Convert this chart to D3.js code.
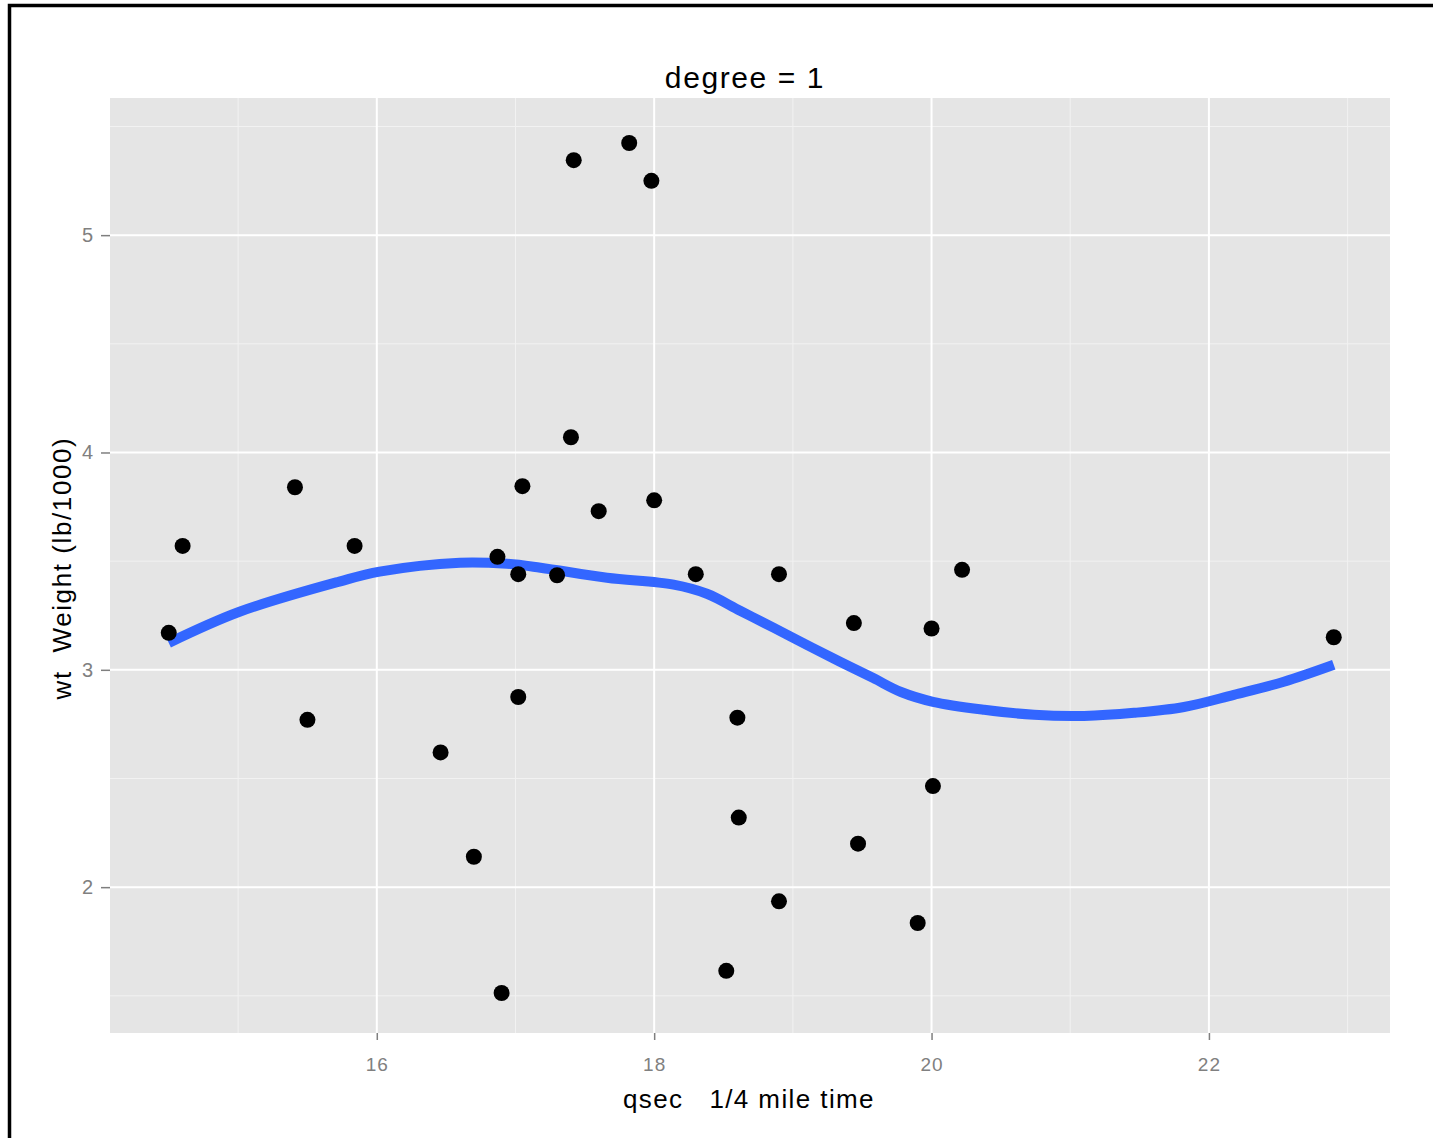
<!DOCTYPE html>
<html>
<head>
<meta charset="utf-8">
<script src="https://cdn.jsdelivr.net/npm/d3@7"></script>
<style>
  html, body { margin: 0; padding: 0; background: #fff; }
  svg { display: block; font-family: "Liberation Sans", Arial, sans-serif; }
</style>
</head>
<body>
<svg id="chart" width="1433" height="1138"></svg>
<script>
// mtcars: quarter-mile time (qsec) and weight (wt, 1000 lb)
const qsec = [16.46, 17.02, 18.61, 19.44, 17.02, 20.22, 15.84, 20.00, 22.90, 18.30,
              18.90, 17.40, 17.60, 18.00, 17.98, 17.82, 17.42, 19.47, 18.52, 19.90,
              20.01, 16.87, 17.30, 15.41, 17.05, 18.90, 16.70, 16.90, 14.50, 15.50,
              14.60, 18.60];
const wt = [2.620, 2.875, 2.320, 3.215, 3.440, 3.460, 3.570, 3.190, 3.150, 3.440,
            3.440, 4.070, 3.730, 3.780, 5.250, 5.424, 5.345, 2.200, 1.615, 1.835,
            2.465, 3.520, 3.435, 3.840, 3.845, 1.935, 2.140, 1.513, 3.170, 2.770,
            3.570, 2.780];

// loess smooth (degree = 1), sampled along qsec
const smoothX = [14.50, 15.01, 15.73, 16.02, 16.60, 16.94, 17.18, 17.66, 18.14, 18.38,
                 18.62, 18.86, 19.10, 19.34, 19.58, 19.78, 20.01, 20.38, 20.74, 21.10,
                 21.46, 21.82, 22.18, 22.54, 22.90];
const smoothY = [3.124, 3.267, 3.406, 3.452, 3.493, 3.488, 3.470, 3.424, 3.392, 3.350,
                 3.272, 3.194, 3.115, 3.037, 2.962, 2.898, 2.853, 2.816, 2.793, 2.788,
                 2.802, 2.829, 2.885, 2.945, 3.023];

const xTicks = [16, 18, 20, 22];
const xMinor = [15, 17, 19, 21, 23];
const yTicks = [2, 3, 4, 5];
const yMinor = [1.5, 2.5, 3.5, 4.5, 5.5];

const title = "degree = 1";
const xTitle = "qsec   1/4 mile time";
const yTitle = "wt  Weight (lb/1000)";

const svg = d3.select("#chart");

// outer frame
svg.append("path")
  .attr("d", "M9.5,1138 L9.5,5.5 L1433,5.5")
  .attr("fill", "none").attr("stroke", "#000").attr("stroke-width", 3.5);

const panel = { left: 110, top: 98, right: 1390, bottom: 1033 };

const xExt = d3.extent(qsec), yExt = d3.extent(wt);
const xPad = (xExt[1] - xExt[0]) * 0.05, yPad = (yExt[1] - yExt[0]) * 0.05;

const x = d3.scaleLinear()
  .domain([xExt[0] - xPad, xExt[1] + xPad])
  .range([panel.left + 0.5, panel.right + 2]);
const y = d3.scaleLinear()
  .domain([yExt[0] - yPad, yExt[1] + yPad])
  .range([panel.bottom + 2.5, panel.top + 2.5]);

// panel background
svg.append("rect")
  .attr("x", panel.left).attr("y", panel.top)
  .attr("width", panel.right - panel.left).attr("height", panel.bottom - panel.top)
  .attr("fill", "#E5E5E5");

const grid = svg.append("g");
// minor grid
grid.selectAll(".xm").data(xMinor.filter(v => x(v) <= panel.right)).enter().append("line")
  .attr("x1", d => x(d)).attr("x2", d => x(d))
  .attr("y1", panel.top).attr("y2", panel.bottom)
  .attr("stroke", "#F2F2F2").attr("stroke-width", 1);
grid.selectAll(".ym").data(yMinor.filter(v => y(v) >= panel.top)).enter().append("line")
  .attr("y1", d => y(d)).attr("y2", d => y(d))
  .attr("x1", panel.left).attr("x2", panel.right)
  .attr("stroke", "#F2F2F2").attr("stroke-width", 1);
// major grid
grid.selectAll(".xg").data(xTicks).enter().append("line")
  .attr("x1", d => x(d)).attr("x2", d => x(d))
  .attr("y1", panel.top).attr("y2", panel.bottom)
  .attr("stroke", "#FFFFFF").attr("stroke-width", 2);
grid.selectAll(".yg").data(yTicks).enter().append("line")
  .attr("y1", d => y(d)).attr("y2", d => y(d))
  .attr("x1", panel.left).attr("x2", panel.right)
  .attr("stroke", "#FFFFFF").attr("stroke-width", 2);

// axes
const xAxis = d3.axisBottom(x).tickValues(xTicks).tickFormat(d3.format("d"))
  .tickSize(7).tickPadding(18).tickSizeOuter(0);
const gx = svg.append("g").attr("transform", `translate(0,${panel.bottom})`).call(xAxis);
gx.select(".domain").remove();
gx.selectAll(".tick line").attr("stroke", "#7F7F7F").attr("stroke-width", 1.5);
gx.selectAll(".tick text").attr("fill", "#808080").attr("font-size", 19)
  .attr("letter-spacing", 1)
  .attr("font-family", "Liberation Sans, Arial, sans-serif");

const yAxis = d3.axisLeft(y).tickValues(yTicks).tickFormat(d3.format("d"))
  .tickSize(9).tickPadding(8).tickSizeOuter(0);
const gy = svg.append("g").attr("transform", `translate(${panel.left},0)`).call(yAxis);
gy.select(".domain").remove();
gy.selectAll(".tick line").attr("stroke", "#7F7F7F").attr("stroke-width", 1.5);
gy.selectAll(".tick text").attr("fill", "#808080").attr("font-size", 20)
  .attr("font-family", "Liberation Sans, Arial, sans-serif");

// smooth line
const line = d3.line().x((d, i) => x(smoothX[i])).y(d => y(d)).curve(d3.curveCatmullRom);
svg.append("path")
  .attr("d", line(smoothY))
  .attr("fill", "none").attr("stroke", "#3366FF").attr("stroke-width", 10)
  .attr("stroke-linecap", "butt").attr("stroke-linejoin", "round");

// points
svg.append("g").selectAll("circle").data(qsec).enter().append("circle")
  .attr("cx", d => x(d)).attr("cy", (d, i) => y(wt[i]))
  .attr("r", 8).attr("fill", "#000");

// titles
svg.append("text").attr("x", 745).attr("y", 88)
  .attr("text-anchor", "middle").attr("font-size", 30).attr("letter-spacing", 1.6)
  .attr("fill", "#000").text(title);
svg.append("text").attr("x", 749).attr("y", 1108)
  .attr("text-anchor", "middle").attr("font-size", 26).attr("letter-spacing", 1.4)
  .attr("fill", "#000").style("white-space", "pre").text(xTitle);
svg.append("text")
  .attr("transform", `translate(71,568) rotate(-90)`)
  .attr("text-anchor", "middle").attr("font-size", 26).attr("letter-spacing", 1.6)
  .attr("fill", "#000").style("white-space", "pre").text(yTitle);
</script>
</body>
</html>
